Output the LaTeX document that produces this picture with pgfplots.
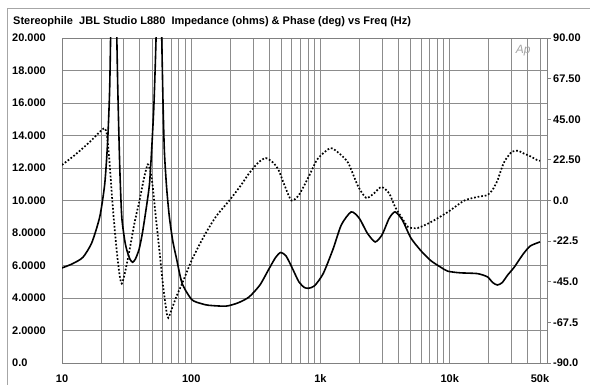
\documentclass[border=0pt]{standalone}
\usepackage{fontspec}
\setmainfont{Liberation Sans}
\usepackage{pgfplots}
\pgfplotsset{compat=1.18}
\pgfplotstableread{
f z
10 5.85
12 6.1
14.5 6.5
17 7.4
19.6 9.0
21.4 11.0
22.5 13.5
23.4 17
24.2 24
25 32
25.6 28
26.3 22
27 17
28 12
29 9.0
30.5 7.6
31.6 7.0
33.5 6.4
35.2 6.2
37 6.4
39.5 7.0
41.9 8.0
45 9.6
47.5 11.0
49.3 13.0
51.5 16
53.8 21
56 30
58.8 21
60.5 16
62 13
64.5 10.8
67.7 9.0
72 7.5
76.6 6.5
85 4.9
101 3.9
120 3.65
137 3.55
186 3.5
230 3.7
280 4.06
340 4.8
400 5.8
450 6.5
492 6.8
540 6.6
600 5.9
680 5.0
750 4.65
809 4.6
900 4.75
1050 5.5
1250 7.0
1450 8.5
1730 9.3
2000 8.9
2300 8.0
2650 7.45
3000 7.9
3400 8.9
3776 9.3
4300 8.8
5000 7.7
6000 6.9
7140 6.3
8500 5.9
9660 5.65
12000 5.55
16400 5.5
19600 5.3
21500 4.95
23400 4.8
25500 4.95
28000 5.4
31600 5.9
37000 6.7
42000 7.2
50000 7.45
}\imped
\pgfplotstableread{
f p
10 19.7
12 24
14.5 29
17 33.5
19.6 38
21.4 40
22.3 36
23.4 20
24.5 0
25.5 -15
26.7 -30
28 -42
29 -46
30.5 -41
33.3 -27.5
36.5 -12
39.8 0
43 12
46 20
48 17
50 9.7
53 -8
56.7 -27.5
60.5 -47
64.5 -62
66.5 -65
70 -61
77 -53
85 -46
101 -33
125 -20
155 -9
197 0
240 8
280 15
330 21
377 23.5
430 21
473 17
530 8
596 0
680 3
809 13
950 23
1190 29
1400 26
1640 20.8
1950 8
2260 1.4
2600 4
2960 7.5
3400 4
3780 -3.6
4300 -10
4770 -14.7
5660 -15.2
7140 -12
9660 -6.4
13000 0
16500 2
19600 3
21500 6
23400 11
25000 17
26700 22
30300 27
34000 27.5
37500 26
42000 24.5
47500 22.4
50000 22
}\phase
\begin{document}
\begin{tikzpicture}[x=1pt,y=1pt]
\draw[black!35, line width=0.8pt] (7,-20) rectangle (620,377);
\node[anchor=west, inner sep=0pt, font=\bfseries\fontsize{11}{13}\selectfont] at (13,363) {Stereophile\ \ JBL Studio L880\ \ Impedance (ohms) \& Phase (deg) vs Freq (Hz)};
\begin{axis}[
  at={(62pt,22pt)}, anchor=south west,
  scale only axis, width=485pt, height=325pt,
  xmode=log, xmin=10, xmax=56600, ymin=0, ymax=20,
  xtick={10,100,1000,10000,50000}, xticklabels={10,100,1k,10k,50k},
  minor xtick={20,30,40,50,60,70,80,90,200,300,400,500,600,700,800,900,2000,3000,4000,5000,6000,7000,8000,9000,20000,30000,40000},
  ytick={0,2,...,20},
  yticklabels={0.0,2.0000,4.0000,6.0000,8.0000,10.000,12.000,14.000,16.000,18.000,20.000},
  grid=both,
  major grid style={black!45, line width=0.7pt},
  minor grid style={black!45, line width=0.7pt},
  axis line style={black!50, line width=0.8pt},
  tick style={draw=none},
  ticklabel style={font=\bfseries\fontsize{11}{13}\selectfont},
  yticklabel style={anchor=west, inner sep=0pt, xshift=-50pt},
  xticklabel style={yshift=-8pt},
]
\addplot[black, line width=1.6pt, smooth, tension=0.4] table[x=f,y=z] {\imped};
\node[font=\itshape\fontsize{12}{14}\selectfont, text=black!35] at (axis cs:37000,19.25) {Ap};
\end{axis}
\begin{axis}[
  at={(62pt,22pt)}, anchor=south west,
  scale only axis, width=485pt, height=325pt,
  xmode=log, xmin=10, xmax=56600, ymin=-90, ymax=90,
  axis x line=none, axis y line*=right,
  ytick={-90,-67.5,-45,-22.5,0,22.5,45,67.5,90},
  yticklabels={-90.0,-67.5,-45.0,-22.5,0.0,22.50,45.00,67.50,90.00},
  axis line style={black!50, line width=0.8pt},
  tick style={black!50, line width=0.8pt},
  tick align=outside, major tick length=4pt,
  ticklabel style={font=\bfseries\fontsize{11}{13}\selectfont},
  yticklabel style={anchor=west, inner sep=0pt, xshift=2pt},
]
\addplot[black, line width=1.7pt, dash pattern=on 1.7pt off 1.9pt, smooth, tension=0.4] table[x=f,y=p] {\phase};
\end{axis}
\pgfresetboundingbox
\path (0,0) rectangle (590,385);
\end{tikzpicture}
\end{document}
